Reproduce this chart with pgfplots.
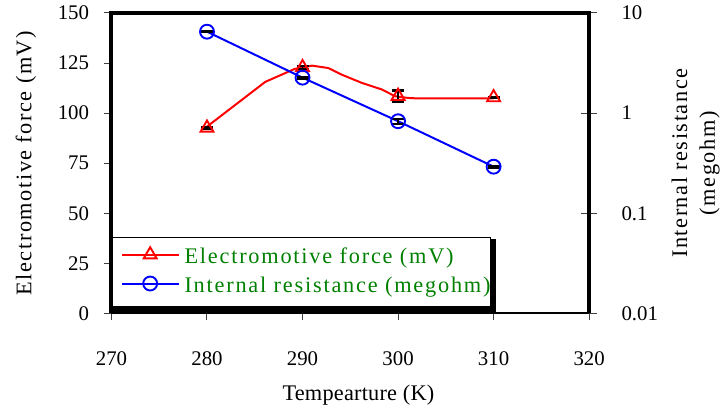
\documentclass[border=0pt]{standalone}
\usepackage{pgfplots}
\pgfplotsset{compat=1.18}
\usepackage{fontspec}
\setmainfont{Liberation Serif}
\newfontfamily\spacedserif{Liberation Serif}[LetterSpace=7]
\newfontfamily\legendserif{Liberation Serif}[LetterSpace=8]
\newfontfamily\tightserif{Liberation Serif}[LetterSpace=1]

\definecolor{emfred}{RGB}{255,0,0}
\definecolor{resblue}{RGB}{0,0,255}
\definecolor{legendgreen}{RGB}{0,128,0}

\begin{document}
\begin{tikzpicture}
\pgfplotsset{
  base/.style={
    scale only axis, width=480bp, height=302bp,
    xmin=270, xmax=320,
    axis line style={draw=none},
    /pgf/number format/assume math mode=true,
    tick label style={font=\fontsize{21}{24}\selectfont},
    label style={font=\spacedserif\fontsize{22.5}{28}\selectfont},
    tick style={black!75, line width=1bp},
    major tick length=7bp,
  },
}

% left axis: electromotive force
\begin{axis}[base, name=emf,
  ymin=0, ymax=150, ytick={0,25,...,150},
  xtick={270,280,...,320},
  xtick pos=bottom, ytick pos=left, tick align=outside,
  xticklabel style={yshift=-28bp},
  yticklabel style={xshift=-12bp},
  xlabel={Tempearture (K)},
  ylabel={Electromotive force (mV)},
  xlabel style={at={(axis description cs:0.517,-0.272)}, anchor=center,
    font=\tightserif\fontsize{22.5}{28}\selectfont},
  ylabel style={at={(axis description cs:-0.179,0.5)}, anchor=center},
]
% trend line of the EMF
\addplot[emfred, line width=2bp] coordinates {
  (279.9,92.9) (286.1,115.6) (289.2,122.1) (291.0,123.7) (292.7,122.5)
  (294.1,119.2) (296.2,115.1) (298.3,111.8) (299.7,108.4) (301.0,107.6)
  (302.1,107.3) (310.0,107.3)
};
% measured EMF with error bars
\addplot[emfred, only marks, mark=triangle, mark size=7.5bp,
  mark options={line width=1.9bp},
  error bars/.cd, y dir=both, y explicit,
  error bar style={black, line width=1.8bp},
  error mark options={black, rotate=90, mark size=6bp, line width=2.2bp}]
  coordinates {
  (280,92.6)  +- (0,0.4)
  (290,122.8) +- (0,0.8)
  (300,108.5) +- (0,2.8)
  (310,107.8) +- (0,0.4)
};
\end{axis}

% right axis: internal resistance (log scale)
\begin{axis}[base, name=res,
  ymode=log, ymin=0.01, ymax=10,
  ytick={0.01,0.1,1,10}, yticklabels={0.01,0.1,1,10},
  yminorticks=false,
  xtick=\empty,
  ytick pos=right, yticklabel pos=right, tick align=center, major tick length=16bp,
  yticklabel style={xshift=21bp},
  ylabel={Internal resistance\\(megohm)},
  ylabel style={at={(axis description cs:1.223,0.5)}, anchor=center, align=center},
  legend cell align=left,
  legend style={at={(0,0.255)}, anchor=north west,
    draw=black, line width=0.8bp, fill=white,
    inner xsep=0bp, inner ysep=9.5bp, row sep=8bp, column sep=5bp,
    font=\legendserif\fontsize{22.5}{28}\selectfont, text=legendgreen,
    nodes={inner sep=0bp, text height=17bp, text depth=4bp}},
  legend image code/.code={
    \path (0bp,0bp);
    \draw[mark repeat=2, mark phase=2, #1]
      plot coordinates {(9bp,2.5bp) (37.5bp,2.5bp) (66bp,2.5bp)};
  },
]
% legend shadow
\fill[black] (rel axis cs:0,0) rectangle (rel axis cs:0.804,0.248);
\addplot[resblue, line width=2bp, mark=o, mark size=7bp,
  mark options={line width=1.9bp}, forget plot,
  error bars/.cd, y dir=both, y explicit,
  error bar style={black, line width=1.8bp},
  error mark options={black, rotate=90, mark size=6bp, line width=2.2bp}]
  coordinates {
  (280,6.5)  +- (0,0.08)
  (290,2.26) +- (0,0.05)
  (300,0.83) +- (0,0.05)
  (310,0.292) +- (0,0.006)
};
\addlegendimage{emfred, line width=2bp, mark=triangle, mark size=7.5bp, mark options={line width=1.9bp}}
\addlegendentry{Electromotive force (mV)}
\addlegendimage{resblue, line width=2bp, mark=o, mark size=7bp, mark options={line width=1.9bp}}
\addlegendentry{Internal resistance (megohm)}
\end{axis}

% plot frame: heavy on three sides, thin along the bottom
\draw[line width=4bp] (emf.south west) -- (emf.north west) -- (emf.north east) -- (emf.south east);
\draw[line width=2bp] (emf.south west) -- (emf.south east);

\path[use as bounding box] ([xshift=-112bp,yshift=-103bp]emf.south west)
  rectangle ([xshift=131bp,yshift=13bp]emf.north east);
\end{tikzpicture}
\end{document}
